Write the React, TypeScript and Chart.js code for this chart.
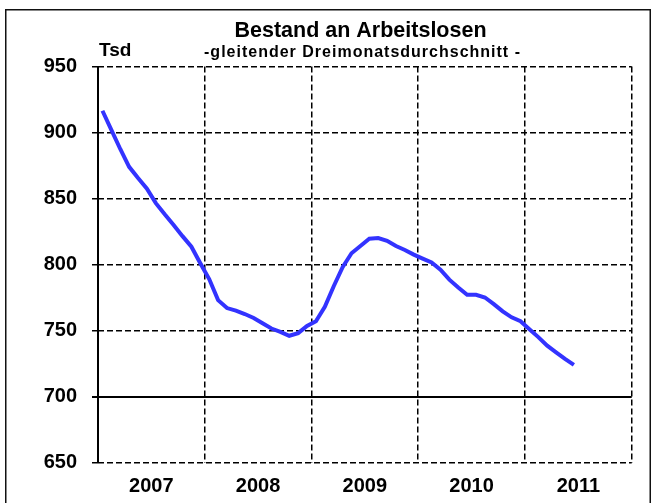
import React, { useEffect, useRef } from 'react';
import { Chart, registerables } from 'chart.js';

Chart.register(...registerables);

const FONT = '"Liberation Sans", Arial, sans-serif';

const years = ['2007', '2008', '2009', '2010', '2011'];
const values2007 = [916.5, 902, 887.5, 874, 865.5, 857.5, 846.5, 838, 830, 821.5, 813.5, 801];
const values2008 = [789, 773, 767, 765, 762.5, 759.5, 755.5, 751.5, 749, 746, 748, 753.5];
const values2009 = [757, 768, 783.5, 798, 808.5, 814, 819.5, 820, 818, 814, 811, 807.5];
const values2010 = [804.5, 801.5, 796, 788.5, 782.5, 777, 777, 775, 770, 764.5, 760, 757];
const values2011 = [751, 745, 738.5, 733.5, 728.5, 724];
const values = [...values2007, ...values2008, ...values2009, ...values2010, ...values2011];

const yMin = 650;
const yMax = 950;
const yStep = 50;
const solidY = 700;

const titleText = 'Bestand an Arbeitslosen';
const subtitleText = '-gleitender Dreimonatsdurchschnitt -';
const unitText = 'Tsd';

const MONTHS_PER_YEAR = 12;

export default function App() {
  const ref = useRef<HTMLCanvasElement | null>(null);

  useEffect(() => {
    if (!ref.current) return;
    const points = values.map((v, i) => ({ x: i + 0.5, y: v }));

    const decor = {
      id: 'decor',
      afterDraw(chart: any) {
        const ctx = chart.ctx as CanvasRenderingContext2D;
        ctx.save();
        ctx.fillStyle = '#000';
        ctx.textBaseline = 'alphabetic';
        ctx.textAlign = 'center';
        ctx.font = `bold 21.5px ${FONT}`;
        ctx.fillText(titleText, 360.5, 37);
        ctx.font = `bold 16px ${FONT}`;
        (ctx as any).letterSpacing = '1px';
        ctx.fillText(subtitleText, 362.5, 57);
        (ctx as any).letterSpacing = '0px';
        ctx.textAlign = 'left';
        ctx.font = `bold 19px ${FONT}`;
        ctx.fillText(unitText, 99, 56);
        ctx.strokeStyle = '#111';
        ctx.lineWidth = 1.5;
        ctx.setLineDash([]);
        ctx.strokeRect(5.75, 9.75, 644.5, 510);
        ctx.restore();
      },
    };

    const chart = new Chart(ref.current, {
      type: 'line',
      data: {
        datasets: [
          {
            data: points,
            borderColor: '#3333ff',
            borderWidth: 4,
            pointRadius: 0,
            tension: 0,
            fill: false,
          },
        ],
      },
      options: {
        animation: false,
        responsive: false,
        devicePixelRatio: 1,
        layout: { padding: { top: 66.5, right: 21.3, left: 0, bottom: 0 } },
        plugins: {
          legend: { display: false },
          tooltip: { enabled: false },
          title: { display: false },
        },
        scales: {
          x: {
            type: 'linear',
            min: 0,
            max: years.length * MONTHS_PER_YEAR,
            afterBuildTicks(scale: any) {
              const t = [];
              for (let v = 0; v <= years.length * MONTHS_PER_YEAR; v += MONTHS_PER_YEAR / 2) t.push({ value: v });
              scale.ticks = t;
            },
            afterFit(scale: any) {
              scale.height = 40.5;
            },
            ticks: {
              autoSkip: false,
              maxRotation: 0,
              padding: 12,
              color: '#000',
              font: { family: FONT, size: 20, weight: 'bold' },
              callback(value: any) {
                const v = Number(value);
                if (v % MONTHS_PER_YEAR === MONTHS_PER_YEAR / 2) return years[(v - MONTHS_PER_YEAR / 2) / MONTHS_PER_YEAR];
                return '';
              },
            },
            grid: {
              drawTicks: false,
              color: (c: any) => (c.tick && c.tick.value % MONTHS_PER_YEAR === 0 ? '#000' : 'rgba(0,0,0,0)'),
              lineWidth: (c: any) => (c.tick && c.tick.value === 0 ? 2 : 1.5),
            },
            border: {
              display: false,
              dash: (c: any) => (c.tick && c.tick.value === 0 ? [] : [6, 3]),
            },
          },
          y: {
            type: 'linear',
            min: yMin,
            max: yMax,
            afterFit(scale: any) {
              scale.width = 98;
            },
            ticks: {
              stepSize: yStep,
              padding: 15,
              color: '#000',
              font: { family: FONT, size: 20, weight: 'bold' },
            },
            grid: {
              color: '#000',
              tickColor: '#000',
              tickLength: 6,
              lineWidth: (c: any) => (c.tick && c.tick.value === solidY ? 2 : 1.5),
            },
            border: {
              display: false,
              dash: (c: any) => (c.tick && c.tick.value === solidY ? [] : [6, 3]),
            },
          },
        },
      },
      plugins: [decor],
    } as any);

    return () => chart.destroy();
  }, []);

  return (
    <div style={{ position: 'absolute', left: 0, top: 0, width: 653, height: 503 }}>
      <canvas ref={ref} width={653} height={503} style={{ display: 'block' }} />
    </div>
  );
}
